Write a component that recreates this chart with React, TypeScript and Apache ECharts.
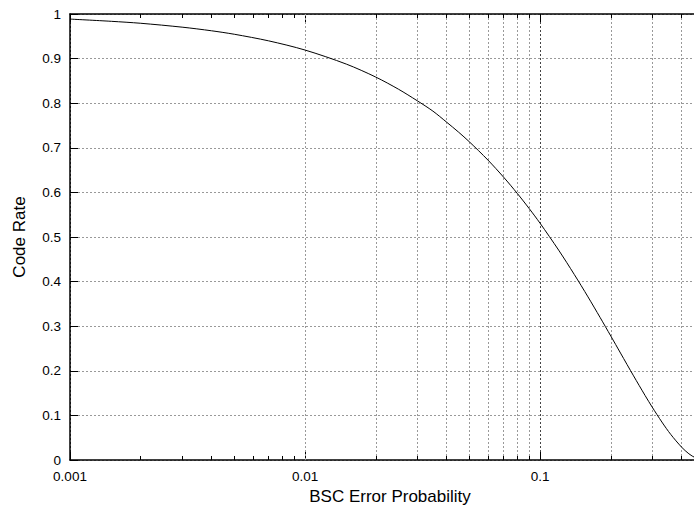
import React, { useEffect, useRef } from "react";
import * as echarts from "echarts";

const errorProb = [
  0.001, 0.0015, 0.002, 0.003, 0.004, 0.005, 0.007, 0.01, 0.015, 0.02, 0.025,
  0.03, 0.035, 0.04, 0.045, 0.05, 0.06, 0.07, 0.08, 0.09, 0.1, 0.12, 0.14,
  0.16, 0.18, 0.2, 0.22, 0.25, 0.28, 0.3, 0.33, 0.36, 0.4, 0.43, 0.46, 0.5,
];
const codeRate = [
  0.9886, 0.9836, 0.9792, 0.9705, 0.9624, 0.9546, 0.9398, 0.9192, 0.8876,
  0.8586, 0.8313, 0.8056, 0.7823, 0.7577, 0.7352, 0.7136, 0.6726, 0.6341,
  0.5978, 0.5635, 0.531, 0.4706, 0.4157, 0.3657, 0.3199, 0.2781, 0.2398,
  0.1887, 0.1445, 0.1187, 0.0851, 0.0573, 0.029, 0.0139, 0.0046, 0,
];
const xTickLabels = [0.001, 0.01, 0.1];
const minorGridX = [
  0.002, 0.003, 0.004, 0.005, 0.006, 0.007, 0.008, 0.009, 0.02, 0.03, 0.04,
  0.05, 0.06, 0.07, 0.08, 0.09, 0.2, 0.3, 0.4,
];

const FONT = "Liberation Sans, Arial, sans-serif";

export default function App() {
  const ref = useRef<HTMLDivElement>(null);
  useEffect(() => {
    document.body.style.margin = "0";
    const chart = echarts.init(ref.current!, undefined, { renderer: "svg" });
    const fmtX = (v: number) => {
      const hit = xTickLabels.find((t) => Math.abs(v - t) / t < 1e-6);
      return hit !== undefined ? String(hit) : "";
    };
    const minorTicks: any[] = [];
    minorGridX.forEach((x) => {
      minorTicks.push([{ coord: [x, 0] }, { coord: [x, 0.009] }]);
      minorTicks.push([{ coord: [x, 1] }, { coord: [x, 0.991] }]);
    });
    chart.setOption({
      animation: false,
      backgroundColor: "#fff",
      textStyle: { fontFamily: FONT },
      grid: {
        left: 70,
        top: 14,
        bottom: 49,
        right: 0,
        containLabel: false,
        outerBoundsMode: "none",
      },
      xAxis: [
        {
          type: "log",
          logBase: 10,
          min: 0.001,
          max: 0.452,
          interval: 1,
          name: "BSC Error Probability",
          nameLocation: "middle",
          nameGap: 20,
          nameTextStyle: {
            fontSize: 17,
            color: "#000",
            fontFamily: FONT,
            padding: [0, 0, 0, 16],
          },
          axisLine: { show: true, lineStyle: { color: "#000", width: 1.5 } },
          axisTick: { show: true, inside: true, length: 8, lineStyle: { color: "#000" } },
          axisLabel: {
            formatter: fmtX,
            color: "#000",
            fontSize: 13.5,
            margin: 9,
            fontFamily: FONT,
            showMaxLabel: false,
          },
          splitLine: {
            show: true,
            lineStyle: { color: "#444", type: [2, 2], width: 1 },
          },
        },
        {
          type: "log",
          logBase: 10,
          min: 0.001,
          max: 0.452,
          interval: 1,
          position: "top",
          axisLine: { show: true, lineStyle: { color: "#000", width: 1.5 } },
          axisTick: { show: true, inside: true, length: 8, lineStyle: { color: "#000" } },
          axisLabel: { show: false },
          splitLine: { show: false },
        },
      ],
      yAxis: {
        type: "value",
        min: 0,
        max: 1,
        interval: 0.1,
        name: "Code Rate",
        nameLocation: "middle",
        nameGap: 42,
        nameTextStyle: { fontSize: 17, color: "#000", fontFamily: FONT },
        axisLine: { show: true, lineStyle: { color: "#000", width: 1.5 } },
        axisTick: { show: true, inside: true, length: 8, lineStyle: { color: "#000" } },
        axisLabel: {
          color: "#000",
          fontSize: 13.5,
          margin: 9,
          fontFamily: FONT,
          formatter: (v: number) => String(Math.round(v * 10) / 10),
        },
        splitLine: {
          show: true,
          lineStyle: { color: "#999", type: [2, 2], width: 1 },
        },
      },
      series: [
        {
          type: "line",
          xAxisIndex: 0,
          data: errorProb.map((p, i) => [p, codeRate[i]]),
          showSymbol: false,
          smooth: 0.3,
          lineStyle: { color: "#000", width: 1 },
          z: 5,
          markLine: {
            silent: true,
            symbol: "none",
            label: { show: false },
            lineStyle: { color: "#999", type: [2, 2], width: 1 },
            data: minorGridX.map((x) => ({ xAxis: x })),
          },
        },
        {
          type: "line",
          xAxisIndex: 0,
          data: [],
          markLine: {
            silent: true,
            symbol: "none",
            label: { show: false },
            lineStyle: { color: "#000", type: "solid", width: 1 },
            data: minorTicks,
          },
        },
      ],
    });
    return () => chart.dispose();
  }, []);
  return <div ref={ref} style={{ width: 694, height: 509 }} />;
}
